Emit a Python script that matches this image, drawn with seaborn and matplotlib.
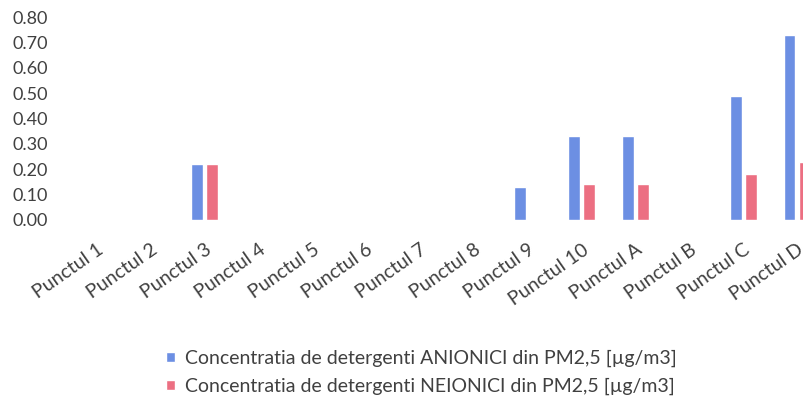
import numpy as np
import pandas as pd
import matplotlib
matplotlib.use("Agg")
import matplotlib.pyplot as plt
import seaborn as sns
from matplotlib.patches import Patch

categories = ["Punctul 1", "Punctul 2", "Punctul 3", "Punctul 4", "Punctul 5",
              "Punctul 6", "Punctul 7", "Punctul 8", "Punctul 9", "Punctul 10",
              "Punctul A", "Punctul B", "Punctul C", "Punctul D"]
anionici = [None, None, 0.22, None, None, None, None, None, 0.13, 0.33,
            0.33, None, 0.49, 0.73]
neionici = [None, None, 0.22, None, None, None, None, None, None, 0.14,
            0.14, None, 0.18, 0.23]
series_names = ["Concentratia de detergenti ANIONICI din PM2,5 [µg/m3]",
                "Concentratia de detergenti NEIONICI din PM2,5 [µg/m3]"]
yticks = [0.0, 0.1, 0.2, 0.3, 0.4, 0.5, 0.6, 0.7, 0.8]

sns.set_style("white")
plt.rcParams['font.family'] = ['Lato', 'DejaVu Sans']

rows = []
for c, a, n in zip(categories, anionici, neionici):
    rows.append({"cat": c, "serie": series_names[0], "val": np.nan if a is None else a})
    rows.append({"cat": c, "serie": series_names[1], "val": np.nan if n is None else n})
df = pd.DataFrame(rows)

colors = ["#6c8fe3", "#ec6f82"]

fig = plt.figure(figsize=(8.04, 4.07), dpi=100)
ax = fig.add_axes([70/804, 1-220/407, 754/804, 203/407])
sns.barplot(data=df, x="cat", y="val", hue="serie", order=categories,
            hue_order=series_names, palette=colors, width=0.56, gap=0.22,
            ax=ax, legend=False, saturation=1)
ax.set_xlim(-0.5, len(categories) - 0.5)
ax.set_ylim(0, 0.8)
ax.set_yticks(yticks)
ax.set_yticklabels([f"{v:.2f}" for v in yticks])
ax.set_xlabel("")
ax.set_ylabel("")
for s in ax.spines.values():
    s.set_visible(False)
ax.tick_params(axis="y", length=0, pad=16, labelsize=13, labelcolor="#404040")
ax.tick_params(axis="x", length=0, pad=15, labelsize=14, labelcolor="#404040")
for lab in ax.get_xticklabels():
    lab.set_rotation(35)
    lab.set_ha("right")
    lab.set_va("top")
    lab.set_rotation_mode("anchor")

handles = [Patch(facecolor=colors[0]), Patch(facecolor=colors[1])]
fig.legend(handles, series_names, loc="upper left", bbox_to_anchor=(166/804, 1-350/407),
           frameon=False, fontsize=14, labelcolor="#404040", handlelength=0.45,
           handleheight=0.45, handletextpad=0.55, labelspacing=0.55,
           borderpad=0, borderaxespad=0)

fig.savefig("out.png", dpi=100)
